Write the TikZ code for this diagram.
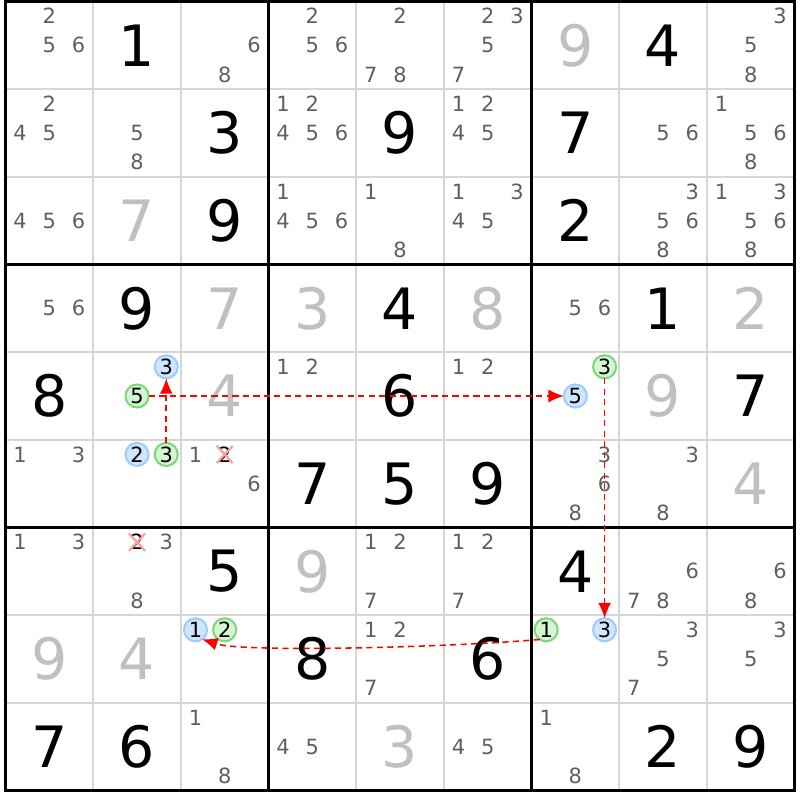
\documentclass[tikz,border=0pt]{standalone}
\usepackage{fontspec}
\setmainfont{DejaVu Sans}
\usepackage{xcolor}
\usepackage{tikz}
\usetikzlibrary{calc}
\usetikzlibrary{arrows.meta}
\usetikzlibrary{shapes.misc}
\definecolor{candgray}{HTML}{5F5F5F}
\definecolor{givengray}{HTML}{C0C0C0}
\definecolor{thingrid}{HTML}{D6D6D6}
\definecolor{bluefill}{HTML}{CFE6FF}
\definecolor{blueline}{HTML}{9CCBFF}
\definecolor{greenfill}{HTML}{D5F5D5}
\definecolor{greenline}{HTML}{78D978}
\definecolor{crossred}{HTML}{FF9A9A}
\tikzstyle{every node}=[inner sep=0pt, outer sep=0pt]
\tikzstyle{big}=[font=\fontsize{18.5}{20}\selectfont]
\tikzstyle{cand}=[font=\fontsize{6.8}{8}\selectfont, text=candgray]
\tikzstyle{blue cand}=[cand, text=black, circle, draw=blueline, fill=bluefill, line width=0.65pt, minimum size=7.5pt]
\tikzstyle{green cand}=[cand, text=black, circle, draw=greenline, fill=greenfill, line width=0.65pt, minimum size=7.5pt]
\tikzstyle{gone cand}=[cand, text=black, cross out, draw=crossred, line width=0.7pt, minimum width=5.2pt, minimum height=5.6pt]
\tikzstyle{link}=[red, line width=0.5pt, dash pattern=on 2pt off 1.4pt, ->, >={Latex[length=5pt,width=4.2pt]}]

\begin{document}
\begin{tikzpicture}
        \useasboundingbox (-0.063, -0.108) rectangle (9.062, 9.017);

        % grid
        \foreach \i in {1,2,4,5,7,8} {
            \draw [thingrid, line width=0.65pt] (\i, 0) -- (\i, 9);
            \draw [thingrid, line width=0.65pt] (0, \i) -- (9, \i);
        }
        \foreach \i in {0,3,6,9} {
            \draw [line width=1.1pt] (\i, -0.017) -- (\i, 9.017);
            \draw [line width=1.1pt] (-0.017, \i) -- (9.017, \i);
        }

        % placed digits
        \foreach \r/\c/\v/\col in {1/2/1/black, 1/7/9/givengray, 1/8/4/black,
                2/3/3/black, 2/5/9/black, 2/7/7/black,
                3/2/7/givengray, 3/3/9/black, 3/7/2/black,
                4/2/9/black, 4/3/7/givengray, 4/4/3/givengray, 4/5/4/black, 4/6/8/givengray, 4/8/1/black, 4/9/2/givengray,
                5/1/8/black, 5/3/4/givengray, 5/5/6/black, 5/8/9/givengray, 5/9/7/black,
                6/4/7/black, 6/5/5/black, 6/6/9/black, 6/9/4/givengray,
                7/3/5/black, 7/4/9/givengray, 7/7/4/black,
                8/1/9/givengray, 8/2/4/givengray, 8/4/8/black, 8/6/6/black,
                9/1/7/black, 9/2/6/black, 9/5/3/givengray, 9/8/2/black, 9/9/9/black}
            \node [big, text=\col] (g\r\c) at (\c-0.5, 9.5-\r) {\v};

        % candidates
        \foreach \r/\c/\ds in {1/1/{2,5,6}, 1/3/{6,8}, 1/4/{2,5,6}, 1/5/{2,7,8}, 1/6/{2,3,5,7}, 1/9/{3,5,8},
                2/1/{2,4,5}, 2/2/{5,8}, 2/4/{1,2,4,5,6}, 2/6/{1,2,4,5}, 2/8/{5,6}, 2/9/{1,5,6,8},
                3/1/{4,5,6}, 3/4/{1,4,5,6}, 3/5/{1,8}, 3/6/{1,3,4,5}, 3/8/{3,5,6,8}, 3/9/{1,3,5,6,8},
                4/1/{5,6}, 4/7/{5,6},
                5/4/{1,2}, 5/6/{1,2},
                6/1/{1,3}, 6/3/{1,6}, 6/7/{3,6,8}, 6/8/{3,8},
                7/1/{1,3}, 7/2/{3,8}, 7/5/{1,2,7}, 7/6/{1,2,7}, 7/8/{6,7,8}, 7/9/{6,8},
                8/5/{1,2,7}, 8/8/{3,5,7}, 8/9/{3,5},
                9/3/{1,8}, 9/4/{4,5}, 9/6/{4,5}, 9/7/{1,8}}
            \foreach \d in \ds {
                \pgfmathtruncatemacro\kcol{mod(\d-1,3)}
                \pgfmathtruncatemacro\krow{(\d-1)/3}
                \node [cand] (p\r\c\d) at ({\c-1+(\kcol+0.5)/3}, {10-\r-(\krow+0.5)/3}) {\d};
            }

        % marked candidates
        \foreach \r/\c/\d/\kind in {5/2/3/blue cand, 5/2/5/green cand, 5/7/3/green cand, 5/7/5/blue cand,
                6/2/2/blue cand, 6/2/3/green cand, 8/3/1/blue cand, 8/3/2/green cand,
                8/7/1/green cand, 8/7/3/blue cand, 6/3/2/gone cand, 7/2/2/gone cand} {
            \pgfmathtruncatemacro\kcol{mod(\d-1,3)}
            \pgfmathtruncatemacro\krow{(\d-1)/3}
            \node [\kind] (p\r\c\d) at ({\c-1+(\kcol+0.5)/3}, {10-\r-(\krow+0.5)/3}) {\d};
        }

        % chain
        \draw [link] (p623) -- (p523);
        \draw [link] (p525) -- (p575);
        \draw [link] (p573) -- (p873);
        \draw [link] (p871.237) .. controls +(185:1) and +(-18:0.5) .. (p831.-55);
    \end{tikzpicture}
\end{document}
